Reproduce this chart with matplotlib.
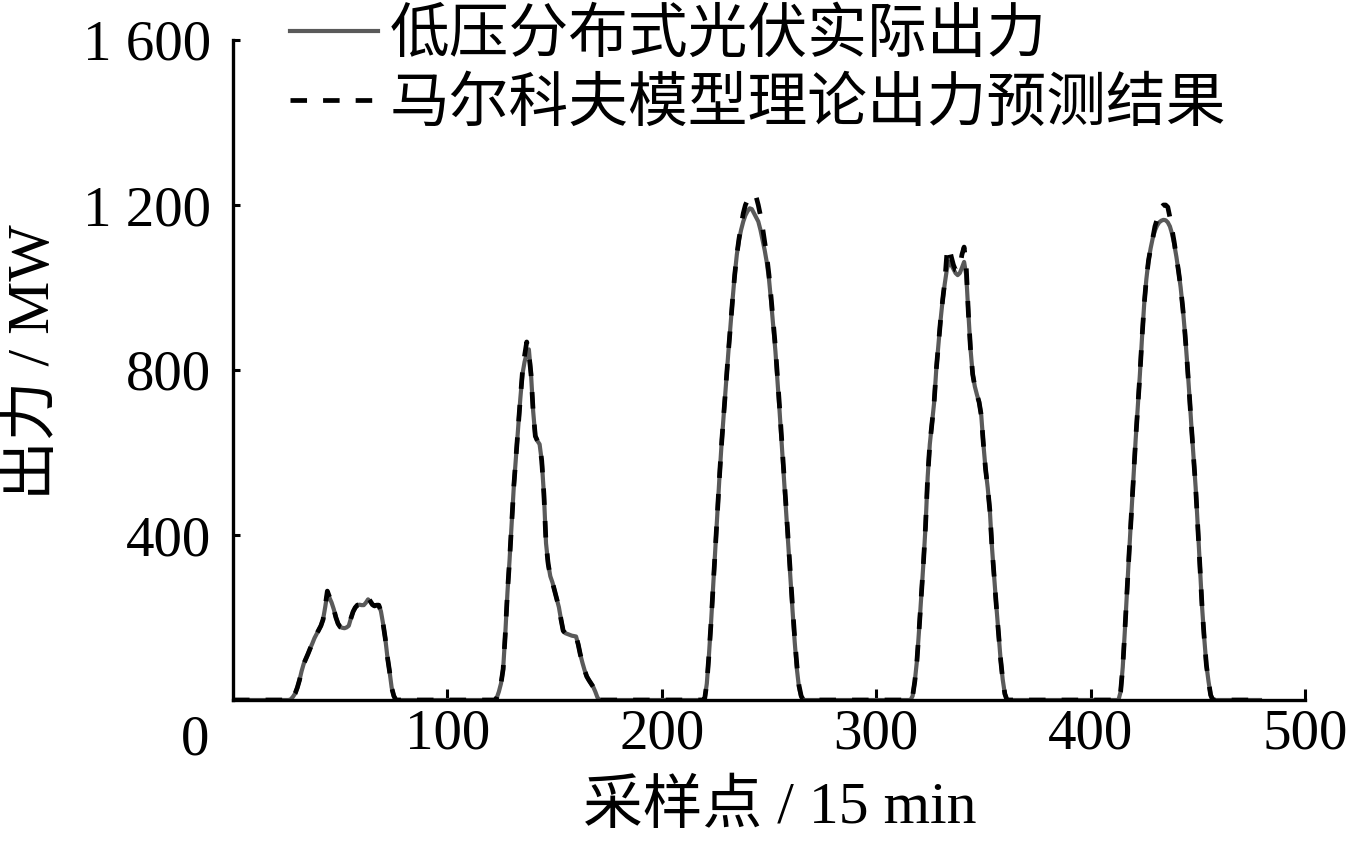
import matplotlib
matplotlib.use("Agg")
import matplotlib.pyplot as plt
import numpy as np

# ---------------- data ----------------
day_starts = [26, 122, 219, 316, 413]

actual_day1 = [0, 2, 8, 16, 30, 48, 70, 88, 100, 112, 125, 137, 150, 160, 170, 180, 195, 225, 258, 248,
               236, 220, 200, 185, 177, 175, 174, 176, 180, 198, 214, 224, 230, 231, 230, 230, 236, 244, 238, 230,
               228, 230, 230, 215, 185, 150, 105, 70, 30, 10, 0]
actual_day2 = [0, 5, 20, 40, 75, 160, 260, 340, 430, 520, 590, 660, 730, 790, 820, 840, 850, 790, 700, 640,
               628, 620, 580, 500, 380, 330, 300, 285, 265, 245, 225, 195, 168, 162, 160, 158, 156, 155, 154, 135,
               110, 90, 72, 57, 48, 40, 32, 20, 6, 0]
actual_day3 = [0, 3, 40, 110, 190, 280, 370, 460, 550, 630, 700, 770, 840, 905, 970, 1030, 1080, 1115, 1140, 1160,
               1175, 1185, 1192, 1190, 1180, 1170, 1160, 1140, 1115, 1090, 1060, 1020, 965, 905, 845, 770, 695, 615, 535, 455,
               375, 295, 215, 140, 75, 30, 8, 0]
actual_day4 = [0, 10, 45, 95, 170, 250, 330, 420, 540, 620, 670, 720, 800, 860, 920, 970, 1010, 1045, 1063, 1055,
               1045, 1035, 1030, 1035, 1048, 1062, 1030, 937, 850, 790, 760, 740, 722, 690, 620, 560, 515, 460, 370, 300,
               230, 165, 100, 50, 15, 0]
actual_day5 = [0, 20, 80, 170, 265, 360, 450, 540, 630, 710, 790, 880, 960, 1020, 1065, 1095, 1120, 1138, 1150, 1158,
               1162, 1164, 1163, 1158, 1148, 1130, 1105, 1075, 1040, 1000, 950, 890, 820, 745, 665, 590, 515, 420, 320, 225,
               150, 85, 45, 12, 0]

pred_day1 = [0, 2, 8, 16, 30, 48, 70, 88, 100, 112, 125, 137, 150, 160, 170, 180, 195, 228, 264, 250,
             236, 220, 200, 185, 177, 175, 174, 176, 180, 198, 214, 224, 230, 231, 230, 232, 238, 248, 240, 232,
             228, 230, 230, 215, 185, 150, 105, 70, 30, 10, 0]
pred_day2 = [0, 5, 20, 40, 75, 160, 260, 340, 430, 520, 590, 660, 730, 795, 835, 868, 840, 790, 700, 640,
             628, 620, 580, 500, 380, 330, 300, 285, 265, 245, 225, 195, 168, 162, 160, 158, 156, 155, 154, 135,
             110, 90, 72, 57, 48, 40, 32, 20, 6, 0]
pred_day3 = [0, 3, 40, 110, 190, 280, 370, 460, 550, 630, 700, 770, 840, 905, 970, 1030, 1080, 1118, 1150, 1180,
             1200, 1212, 1220, 1225, 1226, 1220, 1200, 1175, 1145, 1110, 1075, 1030, 975, 915, 855, 780, 705, 625, 545, 465,
             385, 305, 225, 150, 85, 35, 10, 0]
pred_day4 = [0, 10, 45, 95, 170, 250, 330, 420, 540, 620, 670, 720, 800, 860, 920, 970, 1015, 1085, 1098, 1075,
             1055, 1042, 1040, 1050, 1080, 1098, 1050, 937, 850, 790, 760, 740, 722, 690, 620, 560, 515, 460, 370, 300,
             230, 165, 100, 50, 15, 0]
pred_day5 = [0, 20, 80, 170, 265, 360, 450, 540, 630, 710, 790, 880, 960, 1020, 1065, 1095, 1120, 1148, 1165, 1182,
             1195, 1200, 1200, 1195, 1170, 1140, 1110, 1075, 1040, 1000, 950, 890, 820, 745, 665, 590, 515, 420, 320, 225,
             150, 85, 45, 12, 0]

last_sample = 479

x_ticks = [100, 200, 300, 400, 500]
x_tick_labels = ["100", "200", "300", "400", "500"]
y_ticks = [400, 800, 1200, 1600]
y_tick_labels = ["400", "800", "1 200", "1 600"]

label_actual = "低压分布式光伏实际出力"
label_pred = "马尔科夫模型理论出力预测结果"
x_label = "采样点 / 15 min"
y_label = "出力 / MW"

# ---------------- assemble ----------------
actual_days = [actual_day1, actual_day2, actual_day3, actual_day4, actual_day5]
pred_days = [pred_day1, pred_day2, pred_day3, pred_day4, pred_day5]
samples = [0]
actual = [0]
pred = [0]
for s, a, p in zip(day_starts, actual_days, pred_days):
    assert len(a) == len(p)
    samples += list(range(s, s + len(a)))
    actual += a
    pred += p
samples.append(last_sample)
actual.append(0)
pred.append(0)

FAM = ["Liberation Serif", "Noto Sans CJK SC"]
plt.rcParams["font.family"] = FAM
plt.rcParams["axes.unicode_minus"] = False

TICK_FS = 41
TEXT_FS = 43

W, H = 1350, 846
fig = plt.figure(figsize=(W / 100, H / 100), dpi=100)
ax = fig.add_axes([233 / W, 1 - 700 / H, (1305 - 233) / W, (700 - 40) / H])

ax.plot(samples, actual, color="#5a5a5a", lw=3.0, solid_joinstyle="round", label=label_actual, zorder=2)
ax.plot(samples, pred, color="black", lw=3.4, dashes=(3.5, 3.4), label=label_pred, zorder=3)

ax.set_xlim(0, 500)
ax.set_ylim(0, 1600)
for side in ["top", "right"]:
    ax.spines[side].set_visible(False)
for side in ["left", "bottom"]:
    ax.spines[side].set_linewidth(2.4)
    ax.spines[side].set_zorder(2.5)

ax.set_xticks(x_ticks)
ax.set_xticklabels(x_tick_labels)
ax.set_yticks(y_ticks)
ax.set_yticklabels(y_tick_labels)
ax.tick_params(axis="x", direction="in", length=8, width=2.2, labelsize=TICK_FS, pad=6)
ax.tick_params(axis="y", direction="in", length=5, width=2.2, labelsize=TICK_FS, pad=16)

fig.text(195 / W, 1 - 740 / H, "0", ha="center", va="center", fontsize=TICK_FS)
fig.text(780 / W, 1 - 808 / H, x_label, ha="center", va="center", fontsize=TEXT_FS)
fig.text(35 / W, 1 - 362 / H, y_label, ha="center", va="center", rotation=90, fontsize=TEXT_FS)

leg = ax.legend(loc="upper left", bbox_to_anchor=(290 / W, 1 - 9 / H), bbox_transform=fig.transFigure,
                frameon=False, fontsize=TEXT_FS, handlelength=1.47, handletextpad=0.2, borderpad=0,
                borderaxespad=0, labelspacing=0.23)

fig.savefig("out.png", dpi=100)
